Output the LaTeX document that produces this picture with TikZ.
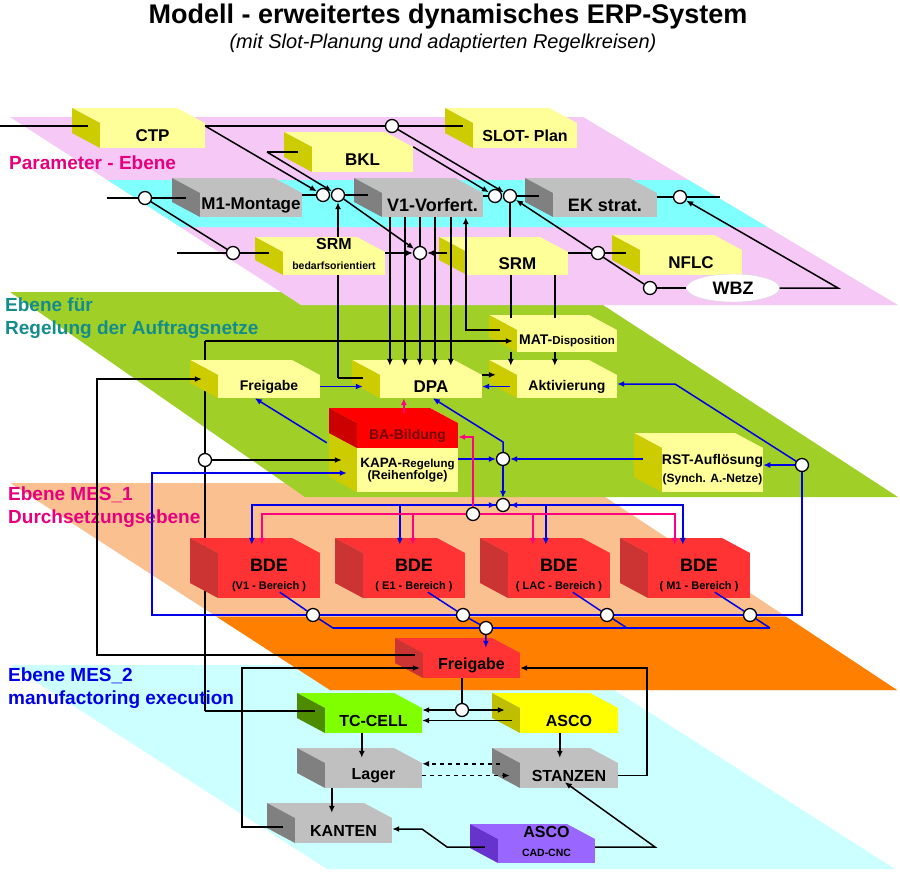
\documentclass[tikz,border=0pt]{standalone}
\usepackage{fontspec}
\setmainfont{Liberation Sans}
\usetikzlibrary{arrows.meta, shapes.geometric, calc}

\pgfdeclarelayer{planes}
\pgfdeclarelayer{hidden}
\pgfdeclarelayer{knots}
\pgfsetlayers{planes,hidden,main,knots}

\definecolor{planePink}{RGB}{245,200,245}
\definecolor{planeCyan}{RGB}{128,255,255}
\definecolor{planeGreen}{RGB}{160,208,40}
\definecolor{planePeach}{RGB}{250,192,144}
\definecolor{planeOrange}{RGB}{255,128,0}
\definecolor{planeIce}{RGB}{204,255,255}
\definecolor{ylwFront}{RGB}{255,255,153}
\definecolor{ylwSide}{RGB}{204,204,0}
\definecolor{grayFront}{RGB}{192,192,192}
\definecolor{graySide}{RGB}{128,128,128}
\definecolor{redFront}{RGB}{255,51,51}
\definecolor{redSide}{RGB}{204,51,51}
\definecolor{baRed}{RGB}{255,0,0}
\definecolor{baSide}{RGB}{204,0,0}
\definecolor{baText}{RGB}{115,0,0}
\definecolor{cellGreen}{RGB}{128,255,0}
\definecolor{cellSide}{RGB}{77,140,0}
\definecolor{ascoYlw}{RGB}{255,255,0}
\definecolor{ascoSide}{RGB}{191,191,0}
\definecolor{cncViolet}{RGB}{153,102,255}
\definecolor{cncSide}{RGB}{102,51,204}
\definecolor{lineBlue}{RGB}{0,0,230}
\definecolor{linePink}{RGB}{255,0,128}
\definecolor{txtPink}{RGB}{230,0,126}
\definecolor{txtTeal}{RGB}{20,140,140}
\definecolor{txtBlue}{RGB}{0,0,230}

\newcommand{\fsz}[2]{\fontsize{#1}{#2}\selectfont}
\newcommand{\quader}[9][]{%
  \fill[#7] (#3,#4) -- (#5,#4) -- (#5-28,#4-15) -- (#3-28,#4-15) -- cycle;
  \fill[#8] (#3,#4) -- (#3-28,#4-15) -- (#3-28,#6-15) -- (#3,#6) -- cycle;
  \fill[#7] (#3,#4) rectangle (#5,#6);
  \node[boxtext, minimum width={#5-#3}, minimum height={#6-#4}, #1] (#2) at ({(#3+#5)/2},{(#4+#6)/2}) {#9};
}

\tikzset{
  boxtext/.style={inner sep=0pt, align=center, font=\bfseries\fsz{16}{18}},
  knot/.style={circle, draw, line width=1.3pt, fill=white, inner sep=0pt, minimum size=13pt},
  conn/.style={line width=1.5pt, black},
  bconn/.style={line width=1.5pt, lineBlue},
  pconn/.style={line width=1.5pt, linePink},
  dline/.style={conn, dash pattern=on 4pt off 4pt},
  planetext/.style={anchor=west, align=left, inner sep=0pt, font=\bfseries\fsz{19}{23.5}},
  >={Latex[length=7pt,width=6pt]}
}

\begin{document}
\begin{tikzpicture}[x=1pt, y=-1pt]
    \useasboundingbox (0,0) rectangle (900,871);

    \begin{pgfonlayer}{planes}
    \fill[planeIce] (10,665) -- (575,665) -- (895,869) -- (327,869) -- cycle;
    \fill[planePeach] (10,483) -- (584,483) -- (897,690) -- (330,690) -- cycle;
    \fill[planeOrange] (217,617) -- (786.6,617) -- (897,690) -- (330,690) -- cycle;
    \fill[planeGreen] (10,292) -- (583,292) -- (898,497) -- (305,497) -- cycle;
    \fill[planePink] (10,117) -- (583,117) -- (898,305) -- (301,305) -- cycle;
    \fill[planeCyan] (107.5,180) -- (688.6,180) -- (767.4,227) -- (180.3,227) -- cycle;
    \end{pgfonlayer}

    \node[font=\bfseries\fsz{27}{30}] (title) at (448,17) {Modell - erweitertes dynamisches ERP-System};
    \node[font=\itshape\fsz{20}{22}] (subtitle) at (443,43) {(mit Slot-Planung und adaptierten Regelkreisen)};
    \node[planetext, text=txtPink] (lblParam) at (9,163) {Parameter - Ebene};
    \node[planetext, text=txtTeal] (lblAuftrag) at (5,318) {Ebene für\\Regelung der Auftragsnetze};
    \node[planetext, text=txtPink] (lblMesA) at (8,507) {Ebene MES\_1\\Durchsetzungsebene};
    \node[planetext, text=txtBlue] (lblMesB) at (8,688) {Ebene MES\_2\\manufactoring execution};

    \begin{pgfonlayer}{knots}
    \foreach \n/\x/\y in {j1/392/126, ja/323/195, jb/338/195, jc/495/196, jd/510/196, jg/680/197,
        jh/145/198, ji/233/253, jj/420/253, je/598/253, jf/650/288, jk/205/460, jn/503/459,
        jo/503/505, jp/473/514, jm/802/465, jq1/313/615, jq2/463/615, jq3/607/615,
        jq4/750/615, jr/486/628, js/462/710}
        \node[knot] (\n) at (\x,\y) {};
    \end{pgfonlayer}

    \begin{pgfonlayer}{hidden}
    \coordinate (loopA) at (205,711);
    \coordinate (loopB) at (205,341);
    \draw[conn] (loopA) -- (loopB);
    \coordinate (dTurn) at (338,378);
    \draw[conn,->] (dTurn) -- (jb);
    \end{pgfonlayer}

    \quader{ctp}{100}{123}{205}{148}{ylwFront}{ylwSide}{\fsz{17}{19}CTP}
    \quader{slot}{473}{123}{577}{148}{ylwFront}{ylwSide}{SLOT- Plan}
    \quader{bkl}{312}{147}{413}{172}{ylwFront}{ylwSide}{\fsz{17}{19}BKL}
    \quader{m1}{200}{193}{302}{217}{grayFront}{graySide}{\fsz{17}{19}M1-Montage}
    \quader{v1}{382}{193}{483}{217}{grayFront}{graySide}{\fsz{18}{20}V1-Vorfert.}
    \quader{ek}{553}{193}{657}{217}{grayFront}{graySide}{\fsz{18}{20}EK strat.}
    \quader[yshift=10]{srmb}{283}{252}{385}{275}{ylwFront}{ylwSide}{SRM\\[2pt]\fsz{10.5}{12}bedarfsorientiert}
    \quader{srm}{467}{252}{568}{275}{ylwFront}{ylwSide}{\fsz{17}{19}SRM}
    \quader{nflc}{640}{250}{742}{275}{ylwFront}{ylwSide}{\fsz{17}{19}NFLC}
    \node[ellipse, fill=white, draw=black!15, minimum width=93, minimum height=28,
        font=\bfseries\fsz{18}{20}] (wbz) at (733,288) {WBZ};

    \quader{matd}{517}{330}{617}{352}{ylwFront}{ylwSide}{\fsz{14}{16}MAT-\fsz{11.5}{14}Disposition}
    \quader{aktiv}{517}{375}{617}{398}{ylwFront}{ylwSide}{\fsz{14}{16}Aktivierung}
    \quader{dpa}{380}{375}{482}{398}{ylwFront}{ylwSide}{\fsz{17}{19}DPA}
    \quader{freig}{218}{375}{320}{398}{ylwFront}{ylwSide}{\fsz{14}{16}Freigabe}
    \quader{kapa}{357}{423}{458}{492}{ylwFront}{ylwSide}{}
    \fill[baRed] (357,423) -- (458,423) -- (430,408) -- (329,408) -- cycle;
    \fill[baRed] (357,423) rectangle (458,448);
    \fill[baSide] (357,423) -- (329,408) -- (329,433) -- (357,448) -- cycle;
    \node[font=\bfseries\fsz{14}{16}, text=baText] (batext) at (407.5,436) {BA-Bildung};
    \node[font=\bfseries, align=center] (kapatext) at (407.5,470)
        {\fsz{13.5}{16}KAPA-\fsz{11.5}{14}Regelung\\\fsz{12.5}{15}(Reihenfolge)};
    \quader{rst}{662}{448}{763}{492}{ylwFront}{ylwSide}{\fsz{14}{16}RST-Auflösung\\\fsz{12}{14}(Synch. A.-Netze)}

    \quader{bde1}{218}{553}{320}{598}{redFront}{redSide}{\fsz{18}{20}BDE\\\fsz{11}{13}(V1 - Bereich )}
    \quader{bde2}{363}{553}{465}{598}{redFront}{redSide}{\fsz{18}{20}BDE\\\fsz{11}{13}( E1 - Bereich )}
    \quader{bde3}{508}{553}{610}{598}{redFront}{redSide}{\fsz{18}{20}BDE\\\fsz{11}{13}( LAC - Bereich )}
    \quader{bde4}{648}{553}{750}{598}{redFront}{redSide}{\fsz{18}{20}BDE\\\fsz{11}{13}( M1 - Bereich )}
    \quader{freired}{423}{653}{520}{678}{redFront}{redSide}{Freigabe}

    \quader{tccell}{325}{708}{422}{733}{cellGreen}{cellSide}{TC-CELL}
    \quader{asco}{520}{708}{618}{733}{ascoYlw}{ascoSide}{ASCO}
    \quader{lager}{325}{763}{422}{788}{grayFront}{graySide}{Lager}
    \quader{stanzen}{520}{763}{618}{788}{grayFront}{graySide}{STANZEN}
    \quader{kanten}{295}{818}{392}{843}{grayFront}{graySide}{KANTEN}
    \quader[yshift=10]{cadcnc}{498}{839}{595}{863}{cncViolet}{cncSide}{ASCO\\[1pt]\fsz{10.5}{12}CAD-CNC}

    \coordinate (inCTP) at (0,126);
    \draw[conn, shorten >=12pt] (inCTP) -- (ctp.west |- inCTP);
    \draw[conn] (ctp.east |- j1) -- (j1);
    \draw[conn, shorten >=10pt] (j1) -- (slot.west |- j1);
    \draw[conn,->] (ctp.east |- j1) -- (ja);
    \coordinate (inBKL) at (267,152);
    \draw[conn, shorten >=14pt] (inBKL) -- (bkl.west |- inBKL);
    \draw[conn,->] (inBKL) -- (jb);
    \draw[conn,->] (bkl.north east) -- (jc);
    \draw[conn,->] (j1) -- (jd);
    \draw[conn] (m1.east |- ja) -- (ja);
    \draw[conn, shorten >=14pt] (jb) -- (v1.west |- jb);
    \draw[conn,->] (jb) -- (jj);
    \draw[conn] (v1.east |- jc) -- (jc);
    \draw[conn, shorten >=14pt] (jd) -- (ek.west |- jd);
    \draw[conn, shorten >=15pt] (jd) -- (jd |- srm.north);
    \coordinate (inM1) at (107,198);
    \draw[conn] (inM1) -- (jh);
    \draw[conn, shorten >=14pt] (jh) -- (m1.west |- jh);
    \draw[conn] (jh) -- (ji);
    \coordinate (inSRM) at (177,253);
    \draw[conn] (inSRM) -- (ji);
    \draw[conn, shorten >=14pt] (ji) -- (srmb.west |- ji);
    \draw[conn,->] (srmb.east |- jj) -- (jj);
    \draw[conn,->, shorten <=20pt] (srm.west |- jj) -- (jj);
    \draw[conn] (srm.east |- je) -- (je);
    \draw[conn, shorten >=14pt] (je) -- (nflc.west |- je);
    \draw[conn,->] (jf) -- (jd);
    \draw[conn] (jf) -- (wbz);
    \coordinate (wbzTurn) at (838,288);
    \draw[conn,->] (wbz) -- (wbzTurn) -- (jg);
    \coordinate (ekOut) at (720,197);
    \draw[conn] (ek.east |- jg) -- (jg) -- (ekOut);

    \foreach \dx in {8,23,38,53,69}
        \draw[conn,->] ([xshift=\dx]v1.south west) -- ([xshift=\dx+2,yshift=9]dpa.north west);
    \coordinate (matIn) at (500,330);
    \draw[conn,->] (matIn) -| ([xshift=84]v1.south west);
    \draw[conn] ([xshift=44]srm.south west) -- ([xshift=-6,yshift=12]matd.north west);
    \draw[conn] ([xshift=88]srm.south west) -- ([xshift=38,yshift=12]matd.north west);
    \draw[conn,->] ([xshift=-6]matd.south west) -- ([xshift=-6,yshift=9]aktiv.north west);
    \draw[conn,->] ([xshift=38]matd.south west) -- ([xshift=38,yshift=9]aktiv.north west);
    \draw[conn,->] (dpa.north east) -- ([xshift=-21]aktiv.north west);
    \draw[bconn,->] ([xshift=-7]aktiv.west) -- (dpa.east);
    \coordinate (dIn) at (363,378);
    \draw[conn] (dIn) -- (dTurn);

    \draw[bconn,->] (freig.east) -- ([xshift=-17]dpa.west);
    \draw[bconn,->] ([xshift=-30,yshift=-20]kapa.north west) -- ([xshift=37]freig.south west);
    \draw[pconn,->] ([xshift=47,yshift=10]kapa.north west) -- ([xshift=24]dpa.south west);
    \draw[conn, shorten <=10pt] (tccell.west |- loopA) -- (loopA);
    \draw[conn,->, shorten >=4pt] (loopB) -- (matd.west |- loopB);
    \draw[conn,->, shorten >=15pt] (jk) -- (kapa.west |- jk);
    \coordinate (lA) at (97,655);
    \coordinate (lB) at (97,379);
    \draw[conn,->, shorten <=8pt, shorten >=16pt] (freired.west |- lA) -- (lA) -- (lB) -- (freig.west |- lB);

    \draw[bconn,->] (kapa.east |- jn) -- (jn);
    \draw[bconn,->, shorten <=19pt] (rst.west |- jn) -- (jn);
    \coordinate (nUp) at (503,442);
    \draw[bconn,->] (jn) -- (nUp) -- ([xshift=53]dpa.south west);
    \draw[bconn,->] (jn) -- (jo);
    \foreach \b/\s in {bde1/34, bde2/37, bde3/38, bde4/35}
        \draw[bconn,->] (jo) -| ([xshift=\s,yshift=8]\b.north west);
    \draw[bconn,<-] (jo) -- +(-22,0);
    \draw[bconn,<-] (jo) -- +(22,0);
    \foreach \b/\s in {bde1/44, bde2/50, bde3/25, bde4/27}
        \draw[pconn,->] (jp) -| ([xshift=\s,yshift=8]\b.north west);
    \coordinate (pUp) at (473,437);
    \draw[pconn,->] (jp) -- (pUp) -- (kapa.east |- pUp);

    \coordinate (bl1) at (152,473);
    \coordinate (bl2) at (152,615);
    \coordinate (bl3) at (802,615);
    \draw[bconn,->, shorten >=10pt] (jm) -- (bl3) -- (bl2) -- (bl1) -- (kapa.west |- bl1);
    \draw[bconn,->] (jm) -- (rst.east |- jm);
    \coordinate (mK) at (675,384);
    \draw[bconn,->] (jm) -- (mK) -- (aktiv.east |- mK);
    \coordinate (lo1) at (333,628);
    \coordinate (lo3) at (627,628);
    \coordinate (lo4) at (770,628);
    \draw[bconn] (lo1) -- (lo4);
    \draw[bconn] ([xshift=62,yshift=6]bde1.south west) -- (jq1) -- (lo1);
    \draw[bconn] ([xshift=65,yshift=6]bde2.south west) -- (jq2) -- (jr);
    \draw[bconn] ([xshift=65,yshift=6]bde3.south west) -- (jq3) -- (lo3);
    \draw[bconn] ([xshift=67,yshift=6]bde4.south west) -- (jq4) -- (lo4);
    \draw[bconn,->] (jr) -- ([xshift=63,yshift=5]freired.north west);

    \draw[conn] (js |- freired.south) -- (js);
    \draw[conn,->] (js) -- (tccell.east |- js);
    \draw[conn,->, shorten >=15pt] (js) -- (asco.west |- js);
    \draw[conn,->, shorten <=8pt] (asco.west) -- (tccell.east);
    \draw[conn,->] ([xshift=37]tccell.south west) -- ([xshift=37,yshift=5]lager.north west);
    \draw[conn,->] ([xshift=40]asco.south west) -- ([xshift=40,yshift=5]stanzen.north west);
    \draw[dline,->, shorten <=20pt] ([yshift=-1]stanzen.north west) -- ([yshift=-1]lager.north east);
    \draw[dline,->, shorten >=10pt] (lager.east) -- (stanzen.west);
    \draw[conn,->] ([xshift=7]lager.south west) -- ([xshift=37,yshift=5]kanten.north west);
    \coordinate (kL1) at (242,827);
    \coordinate (kL2) at (242,668);
    \draw[conn,->, shorten <=12pt, shorten >=3pt] (kanten.west |- kL1) -- (kL1) -- (kL2) -- (freired.west |- kL2);
    \coordinate (sR1) at (647,775.5);
    \coordinate (sR2) at (647,668);
    \draw[conn,->] (stanzen.east) -- (sR1) -- (sR2) -- (freired.east |- sR2);
    \coordinate (cA) at (447,847);
    \coordinate (cB) at (422,829);
    \draw[conn,->, shorten <=13pt] (cadcnc.west |- cA) -- (cA) -- (cB) -- (kanten.east |- cB);
    \coordinate (cC) at (655,847);
    \draw[conn,->] (cadcnc.east |- cC) -- (cC) -- ([xshift=45,yshift=6]stanzen.south west);
\end{tikzpicture}
\end{document}
